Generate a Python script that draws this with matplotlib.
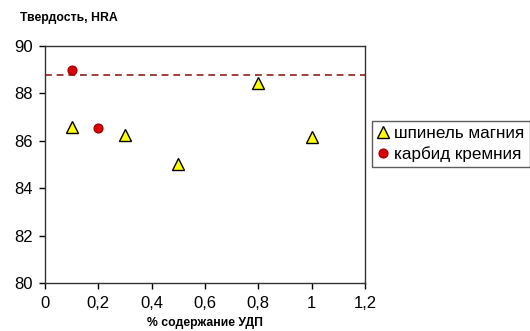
import matplotlib
matplotlib.use("Agg")
import matplotlib.pyplot as plt

plt.rcParams['font.family'] = ['Liberation Sans', 'DejaVu Sans']

spinel_x = [0.1, 0.3, 0.5, 0.8, 1.0]
spinel_y = [86.57, 86.25, 85.0, 88.45, 86.17]
carbide_x = [0.1, 0.2]
carbide_y = [88.98, 86.53]
ref_level = 88.78
x_ticks = [0, 0.2, 0.4, 0.6, 0.8, 1.0, 1.2]
x_tick_labels = ['0', '0,2', '0,4', '0,6', '0,8', '1', '1,2']
y_ticks = [80, 82, 84, 86, 88, 90]

fig = plt.figure(figsize=(5.3, 3.31), dpi=100)
ax = fig.add_axes([45/530, 1-283/331, 320/530, 237/331])

ax.axhline(ref_level, color='#A0403A', linestyle=(0, (3.5, 2.5)), linewidth=1.4, zorder=1)
ax.plot(spinel_x, spinel_y, linestyle='none', marker='^', markersize=8,
        markerfacecolor='#FFFF00', markeredgecolor='black', markeredgewidth=1.0,
        label='шпинель магния', zorder=3)
ax.plot(carbide_x, carbide_y, linestyle='none', marker='o', markersize=6.5,
        markerfacecolor='#DD0000', markeredgecolor='#990000', markeredgewidth=0.8,
        label='карбид кремния', zorder=3)

ax.set_xlim(0, 1.2)
ax.set_ylim(80, 90)
ax.set_xticks(x_ticks)
ax.set_xticklabels(x_tick_labels)
ax.set_yticks(y_ticks)
ax.tick_params(direction='out', length=4, width=1, labelsize=12, colors='black', pad=5)
for s in ax.spines.values():
    s.set_linewidth(1.0)
    s.set_color('#333333')

fig.text(20/530, 1-18/331, 'Твердость, HRA', fontsize=8.8, fontweight='bold', va='center', ha='left')
fig.text(205/530, 1-323/331, '% содержание УДП', fontsize=8.8, fontweight='bold', va='center', ha='center')

leg = fig.legend(loc='upper left', bbox_to_anchor=(372/530, 1-121/331), fontsize=12.3,
                 frameon=True, fancybox=False, edgecolor='#333333', handlelength=0.7,
                 handletextpad=0.3, borderpad=0.3, labelspacing=0.3, borderaxespad=0)
leg.get_frame().set_linewidth(1.0)

fig.savefig('out.png', dpi=100)
